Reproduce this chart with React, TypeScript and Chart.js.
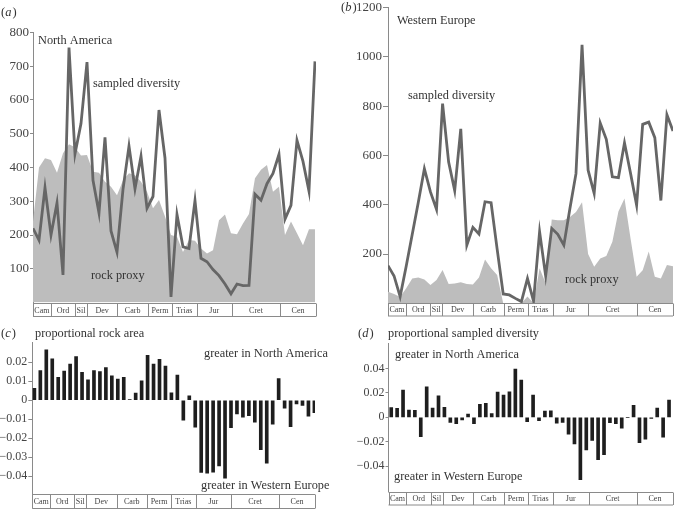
import React, { useEffect, useRef } from 'react';
import { Chart, registerables } from 'chart.js';

Chart.register(...registerables);

// ---------- data (48 stratigraphic stages, Cambrian -> Cenozoic) ----------
const NA_DIVERSITY = [220, 185, 340, 200, 295, 82, 755, 440, 530, 712, 362, 265, 489, 212, 149, 335, 463, 337, 433, 279, 314, 570, 428, 17, 261, 165, 160, 302, 131, 121, 98, 80, 55, 26, 55, 50, 51, 321, 303, 352, 382, 439, 247, 288, 480, 418, 330, 714];
const NA_ROCK = [240, 400, 427, 422, 384, 442, 469, 460, 435, 437, 387, 384, 358, 343, 318, 362, 383, 377, 358, 328, 279, 304, 255, 200, 195, 150, 185, 183, 160, 145, 155, 244, 261, 205, 202, 234, 262, 368, 393, 407, 328, 343, 200, 240, 205, 170, 217, 217];
const WE_DIVERSITY = [153, 111, 27, 150, 280, 410, 546, 452, 381, 810, 573, 457, 708, 236, 308, 281, 412, 408, 220, 38, 34, 20, 7, 101, 9, 290, 111, 304, 280, 236, 385, 526, 1049, 540, 446, 731, 665, 513, 510, 651, 527, 398, 726, 735, 672, 417, 765, 699];
const WE_ROCK = [47, 38, 26, 61, 101, 105, 97, 74, 95, 135, 78, 80, 85, 78, 76, 105, 178, 142, 115, 0, 0, 0, 0, 28, 0, 142, 81, 340, 337, 337, 350, 370, 410, 200, 148, 182, 192, 250, 372, 425, 263, 108, 134, 210, 108, 101, 155, 150];
const ROCK_AREA_DIFF = [0.0063, 0.0156, 0.0265, 0.0218, 0.0121, 0.0154, 0.019, 0.023, 0.0147, 0.0107, 0.0156, 0.0151, 0.0172, 0.0128, 0.0112, 0.0121, 0.0004, 0.0037, 0.0102, 0.0237, 0.019, 0.0216, 0.018, 0.0039, 0.0133, -0.0105, 0.0023, -0.0142, -0.038, -0.0384, -0.0379, -0.0346, -0.041, -0.0144, -0.0072, -0.0089, -0.0082, -0.0116, -0.0261, -0.0332, -0.0126, 0.0114, -0.0042, -0.0139, -0.0019, -0.0028, -0.0084, -0.0065];
const DIVERSITY_DIFF = [0.0079, 0.0073, 0.0223, 0.006, 0.0057, -0.0158, 0.025, 0.0076, 0.0177, 0.0082, -0.0041, -0.0052, -0.0022, 0.0027, -0.0052, 0.0106, 0.0114, 0.003, 0.0207, 0.0182, 0.021, 0.0395, 0.0305, -0.0035, 0.0182, -0.0027, 0.0052, 0.0054, -0.0049, -0.0041, -0.0139, -0.0218, -0.0512, -0.0267, -0.019, -0.0348, -0.0307, -0.0044, -0.0052, -0.009, 0, 0.0098, -0.0207, -0.018, -0.001, 0.0076, -0.0163, 0.0141];

const PERIODS = ['Cam', 'Ord', 'Sil', 'Dev', 'Carb', 'Perm', 'Trias', 'Jur', 'Cret', 'Cen'];
const PERIOD_BOUNDS = [0, 0.063, 0.149, 0.19, 0.298, 0.406, 0.491, 0.578, 0.703, 0.873, 1];

const NA_TICKS = [100, 200, 300, 400, 500, 600, 700, 800];
const WE_TICKS = [200, 400, 600, 800, 1000, 1200];
const ROCK_DIFF_TICKS = [0.02, 0.01, 0, -0.01, -0.02, -0.03, -0.04];
const DIV_DIFF_TICKS = [0.04, 0.02, 0, -0.02, -0.04];

// ---------- styling ----------
const SERIF = '"Liberation Serif", "Times New Roman", serif';
const TEXT = '#333';
const AXIS = '#8a8a8a';
const LINE = '#666666';
const AREA = '#bdbdbd';
const BAR = '#1e1e1e';

type Part = { t: string; italic?: boolean };
type Label = { parts: Part[]; x: number; y: number; size: number };

const txt = (t: string, x: number, y: number, size = 12.3): Label => ({ parts: [{ t }], x, y, size });
const letter = (l: string, x: number, y: number): Label => ({
  parts: [{ t: '(' }, { t: l, italic: true }, { t: ')' }],
  x,
  y,
  size: 12.5,
});

const fmtDiff = (v: number) => (v === 0 ? '0' : (v < 0 ? '\u2212' : '') + Math.abs(v).toFixed(2));

function overlayPlugin(band: number, labels: Label[]) {
  return {
    id: 'overlay',
    afterDraw(chart: any) {
      const { ctx, chartArea } = chart;
      const xt = chart.scales.xt;
      ctx.save();
      const top = Math.round(chartArea.bottom) + 0.5;
      const bottom = top + band;
      ctx.strokeStyle = AXIS;
      ctx.lineWidth = 1;
      ctx.beginPath();
      ctx.moveTo(chartArea.left, top);
      ctx.lineTo(chartArea.right, top);
      ctx.moveTo(chartArea.left, bottom);
      ctx.lineTo(chartArea.right, bottom);
      PERIOD_BOUNDS.forEach((b) => {
        const px = Math.round(xt.getPixelForValue(b)) + 0.5;
        ctx.moveTo(px, top);
        ctx.lineTo(px, bottom);
      });
      ctx.stroke();
      ctx.font = `8px ${SERIF}`;
      ctx.fillStyle = '#444';
      ctx.textAlign = 'center';
      ctx.textBaseline = 'middle';
      PERIODS.forEach((p, i) => {
        const a = xt.getPixelForValue(PERIOD_BOUNDS[i]);
        const b = xt.getPixelForValue(PERIOD_BOUNDS[i + 1]);
        ctx.fillText(p, (a + b) / 2, (top + bottom) / 2 + 0.5);
      });
      ctx.textAlign = 'left';
      ctx.fillStyle = TEXT;
      labels.forEach((l) => {
        let x = l.x;
        l.parts.forEach((p) => {
          ctx.font = `${p.italic ? 'italic ' : ''}${l.size}px ${SERIF}`;
          ctx.fillText(p.t, x, l.y);
          x += ctx.measureText(p.t).width + (p.italic ? 1 : 0);
        });
      });
      ctx.restore();
    },
  };
}

function yAxis(opts: {
  min: number;
  max: number;
  ticks: number[];
  width: number;
  size: number;
  tickLength: number;
  format: (v: number) => string;
}) {
  return {
    min: opts.min,
    max: opts.max,
    afterBuildTicks: (s: any) => {
      s.ticks = opts.ticks.map((value) => ({ value }));
    },
    afterFit: (s: any) => {
      s.width = opts.width;
    },
    border: { display: true, color: AXIS, width: 1 },
    grid: { display: true, drawOnChartArea: false, drawTicks: true, tickLength: opts.tickLength, color: AXIS },
    ticks: {
      font: { family: SERIF, size: opts.size, lineHeight: 1 },
      color: '#444',
      padding: 1,
      callback: (v: any) => opts.format(Number(v)),
    },
  };
}

const timeAxis = { type: 'linear', position: 'bottom', min: 0, max: 1, display: false, offset: false, grid: { offset: false } };

function lineConfig(p: {
  diversity: number[];
  rock: number[];
  xmax: number;
  y: any;
  padding: any;
  band: number;
  labels: Label[];
}) {
  return {
    type: 'line',
    data: {
      datasets: [
        {
          label: 'sampled diversity',
          data: p.diversity.map((y, x) => ({ x, y })),
          borderColor: LINE,
          borderWidth: 2.8,
          pointRadius: 0,
          tension: 0,
          fill: false,
          order: 1,
        },
        {
          label: 'rock proxy',
          data: p.rock.map((y, x) => ({ x, y })),
          borderColor: 'rgba(0,0,0,0)',
          borderWidth: 1,
          backgroundColor: AREA,
          pointRadius: 0,
          tension: 0,
          fill: 'origin',
          order: 2,
        },
      ],
    },
    options: {
      animation: false,
      responsive: false,
      devicePixelRatio: 1,
      layout: { padding: p.padding },
      plugins: { legend: { display: false }, tooltip: { enabled: false } },
      scales: {
        x: { type: 'linear', min: 0, max: p.xmax, display: false, offset: false },
        xt: timeAxis,
        y: p.y,
      },
    },
    plugins: [overlayPlugin(p.band, p.labels)],
  };
}

function barConfig(p: {
  values: number[];
  xmin: number;
  xmax: number;
  y: any;
  padding: any;
  band: number;
  labels: Label[];
}) {
  return {
    type: 'bar',
    data: {
      datasets: [
        {
          label: 'difference',
          data: p.values.map((y, x) => ({ x, y })),
          backgroundColor: BAR,
          borderWidth: 0,
          barThickness: 3,
        },
      ],
    },
    options: {
      animation: false,
      responsive: false,
      devicePixelRatio: 1,
      layout: { padding: p.padding },
      plugins: { legend: { display: false }, tooltip: { enabled: false } },
      scales: {
        x: { type: 'linear', min: p.xmin, max: p.xmax, display: false, offset: false, grid: { offset: false } },
        xt: timeAxis,
        y: p.y,
      },
    },
    plugins: [overlayPlugin(p.band, p.labels)],
  };
}

function Panel({ left, top, width, height, make }: { left: number; top: number; width: number; height: number; make: () => any }) {
  const ref = useRef<HTMLCanvasElement>(null);
  useEffect(() => {
    const chart = new Chart(ref.current as HTMLCanvasElement, make());
    return () => chart.destroy();
  }, []);
  return (
    <canvas
      ref={ref}
      width={width}
      height={height}
      style={{ position: 'absolute', left, top, width, height, display: 'block' }}
    />
  );
}

export default function App() {
  return (
    <div style={{ position: 'absolute', left: 0, top: 0, width: 675, height: 509, background: '#fff', overflow: 'hidden' }}>
      <Panel
        left={0}
        top={0}
        width={337}
        height={322}
        make={() =>
          lineConfig({
            diversity: NA_DIVERSITY,
            rock: NA_ROCK,
            xmax: 47.17,
            y: yAxis({ min: 0, max: 800, ticks: NA_TICKS, width: 33, size: 13, tickLength: 3, format: (v) => String(v) }),
            padding: { left: 0, right: 21, top: 32.3, bottom: 19.4 },
            band: 13,
            labels: [
              letter('a', 1, 13),
              txt('North America', 38, 41),
              txt('sampled diversity', 93, 84),
              txt('rock proxy', 91, 276),
            ],
          })
        }
      />
      <Panel
        left={337}
        top={0}
        width={338}
        height={322}
        make={() =>
          lineConfig({
            diversity: WE_DIVERSITY,
            rock: WE_ROCK,
            xmax: 47,
            y: yAxis({ min: 0, max: 1200, ticks: WE_TICKS, width: 51, size: 13, tickLength: 5, format: (v) => String(v) }),
            padding: { left: 0, right: 2, top: 7.3, bottom: 18.7 },
            band: 12.5,
            labels: [
              letter('b', 4, 7.5),
              txt('Western Europe', 60, 20.5),
              txt('sampled diversity', 71, 96),
              txt('rock proxy', 228, 280),
            ],
          })
        }
      />
      <Panel
        left={0}
        top={322}
        width={337}
        height={187}
        make={() =>
          barConfig({
            values: ROCK_AREA_DIFF,
            xmin: -0.35,
            xmax: 47.1,
            y: yAxis({ min: -0.0494, max: 0.0303, ticks: ROCK_DIFF_TICKS, width: 32.3, size: 12, tickLength: 4, format: fmtDiff }),
            padding: { left: 0, right: 22, top: 20.7, bottom: 15 },
            band: 14,
            labels: [
              letter('c', 1, 11.5),
              txt('proportional rock area', 35, 11.5),
              txt('greater in North America', 204, 32),
              txt('greater in Western Europe', 201, 164),
            ],
          })
        }
      />
      <Panel
        left={337}
        top={322}
        width={338}
        height={187}
        make={() =>
          barConfig({
            values: DIVERSITY_DIFF,
            xmin: -0.46,
            xmax: 47.67,
            y: yAxis({ min: -0.061, max: 0.0607, ticks: DIV_DIFF_TICKS, width: 51.5, size: 12, tickLength: 3, format: fmtDiff }),
            padding: { left: 0, right: 2, top: 21.3, bottom: 17.3 },
            band: 12.5,
            labels: [
              letter('d', 21, 11.5),
              txt('proportional sampled diversity', 51, 11.5),
              txt('greater in North America', 58, 33),
              txt('greater in Western Europe', 57, 155),
            ],
          })
        }
      />
    </div>
  );
}
